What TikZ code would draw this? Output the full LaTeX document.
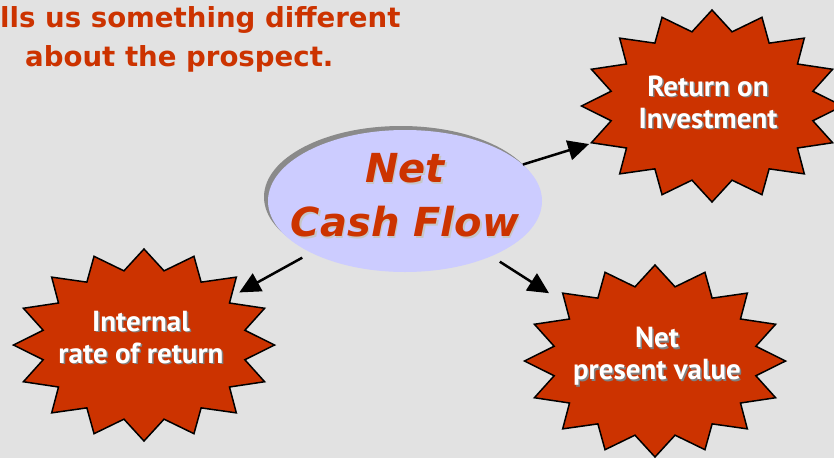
\documentclass[tikz,border=0pt]{standalone}
\usepackage{fontspec}
\setmainfont{PT Sans}
\newfontfamily\headfont{DejaVu Sans}
\usepackage{tikz}
\usetikzlibrary{positioning,arrows.meta,shadows,shapes.geometric}

\definecolor{rust}{HTML}{CC3300}
\definecolor{lavender}{HTML}{CCCCFF}
\definecolor{paper}{HTML}{E2E2E2}
\definecolor{rim}{HTML}{8A8A8A}

% text with a small drop shadow
\newcommand{\shadowed}[2]{\makebox[0pt][l]{\hspace{1.5pt}\raisebox{-1.5pt}{\textcolor{#1}{#2}}}#2}

\begin{document}
\begin{tikzpicture}[
  x=1pt, y=-1pt, >={Triangle[length=21pt,width=20pt]},
  burst/.style={star, star points=16, star point ratio=1.27, minimum size=192pt, inner sep=0pt,
    fill=rust, draw=black, line width=1.5pt, xscale=1.36, transform shape},
  bursttext/.style={align=center, text=white, font=\bfseries\fontsize{29}{32}\selectfont},
  headline/.style={anchor=base west, inner sep=0pt, text=rust, font=\headfont\bfseries\fontsize{27.6}{33}\selectfont},
  conn/.style={->, line width=2.5pt}
]

  \fill[paper] (0,0) rectangle (834,458);
  \useasboundingbox (0,0) rectangle (834,458);

  % heading, cut at the left edge
  \node (head1) [headline] at (0,27) {lls us something different};
  \node (head2) [headline] at (25,66) {about the prospect.};

  % centre
  \node (ncf) [ellipse, minimum width=274pt, minimum height=142pt, inner sep=0pt, fill=lavender,
    drop shadow={shadow xshift=-4pt, shadow yshift=4pt, fill=rim, opacity=1}] at (405,201) {};
  \node (ncf-text) [align=center, text=rust, font=\headfont\bfseries\itshape\fontsize{40}{54}\selectfont] at (405,196)
    {\shadowed{gray!45}{Net}\\\shadowed{gray!45}{Cash Flow}};

  % the three measures
  \node (roi) [burst] at (712,106) {};
  \node (roi-text) [bursttext] at (708,103) {\shadowed{gray}{Return on}\\\shadowed{gray}{Investment}};

  \node (irr) [burst] at (144,345) {};
  \node (irr-text) [bursttext] at (141,338) {\shadowed{gray}{Internal}\\\shadowed{gray}{rate of return}};

  \node (npv) [burst] at (655,361) {};
  \node (npv-text) [bursttext] at (657,357) {\shadowed{gray}{Net}\\\shadowed{gray}{present value}};

  \draw[conn, shorten >=2pt] (ncf) -- (roi);
  \draw[conn, shorten <=10pt, shorten >=8pt] (ncf) -- (irr);
  \draw[conn, shorten <=10pt, shorten >=18pt] (ncf) -- (npv);
\end{tikzpicture}
\end{document}
